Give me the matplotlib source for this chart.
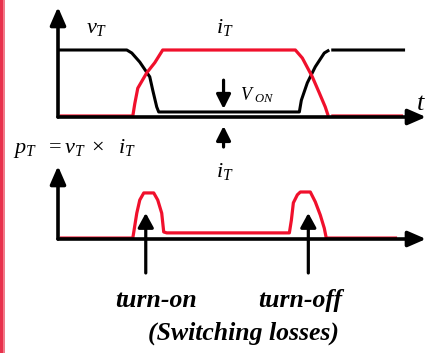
import numpy as np
import matplotlib
matplotlib.use('Agg')
import matplotlib.pyplot as plt
from matplotlib.patches import Rectangle

plt.rcParams['mathtext.fontset'] = 'custom'
plt.rcParams['mathtext.it'] = 'Liberation Serif:italic'
plt.rcParams['mathtext.rm'] = 'Liberation Serif'
plt.rcParams['mathtext.bf'] = 'Liberation Serif:bold'

### Waveform data (time in arbitrary units, amplitude normalised) ###

t_v = [0, 6.9, 7.4, 8.2, 9.2, 9.5, 9.9, 10.1, 24.2, 24.4, 25.0, 25.8, 26.7, 27.2, np.nan, 27.4, 34.8]
v_T = [1.0, 1.0, 0.955, 0.82, 0.60, 0.40, 0.15, 0.075, 0.075, 0.25, 0.51, 0.75, 0.955, 1.0, np.nan, 1.0, 1.0]

t_i = [0.2, 7.5, 7.7, 8.0, 8.9, 9.7, 10.5, 23.8, 24.5, 25.5, 26.2, 26.8, 27.1, np.nan, 27.4, 34.6]
i_T = [0.015, 0.015, 0.2, 0.43, 0.66, 0.81, 1.0, 1.0, 0.88, 0.60, 0.36, 0.15, 0.015, np.nan, 0.015, 0.015]

t_p = [0.2, 7.5, 7.6, 7.9, 8.2, 8.6, 9.6, 10.0, 10.4, 10.6, 10.9, 23.2, 23.4, 23.6, 24.0, 24.3,
       25.3, 25.8, 26.3, 26.7, 26.9, 34.0]
p_T = [0.02, 0.02, 0.15, 0.55, 0.83, 0.98, 0.98, 0.83, 0.55, 0.15, 0.13, 0.13, 0.40, 0.77, 0.94, 1.0,
       1.0, 0.79, 0.51, 0.23, 0.02, 0.02]

red = '#f0102c'
W, H = 426, 353

fig = plt.figure(figsize=(W / 100, H / 100), dpi=100)

# left border stripes
fig.add_artist(Rectangle((0, 0), 2.5 / W, 1, transform=fig.transFigure, color='#e8314c', lw=0))
fig.add_artist(Rectangle((3.2 / W, 0), 1.3 / W, 1, transform=fig.transFigure, color='#f27a8a', lw=0))

def axis_arrows(ax, xmax, ymax):
    style = '-|>,head_length=1.08,head_width=0.47'
    props = dict(arrowstyle=style, mutation_scale=10, lw=2.6, color='k',
                 shrinkA=0, shrinkB=0)
    ax.annotate('', xy=(0, ymax), xytext=(0, 0), arrowprops=props, annotation_clip=False)
    ax.annotate('', xy=(xmax, 0), xytext=(0, 0), arrowprops=props, annotation_clip=False)

def small_arrow(ax, tip, tail, hw=0.43):
    props = dict(arrowstyle='-|>,head_length=0.86,head_width={}'.format(hw),
                 mutation_scale=10, lw=2.3, color='k', shrinkA=0, shrinkB=0)
    ax.annotate('', xy=tip, xytext=tail, arrowprops=props, annotation_clip=False)

### Upper plot: v_T and i_T ###
ax1 = fig.add_axes([58 / W, (H - 117) / H, 368 / W, 110 / H])
ax1.set_xlim(0, 36.9)
ax1.set_ylim(0, 110 / 67)
ax1.axis('off')
axis_arrows(ax1, 36.9, 110 / 67)
ax1.plot(t_v, v_T, color='k', lw=2.2, clip_on=False, solid_capstyle='butt')
ax1.plot(t_i, i_T, color=red, lw=2.3, clip_on=False, solid_capstyle='butt')

ax1.text(2.8, 1.25, r'$v_T$', fontsize=16, ha='left', va='baseline')
ax1.text(15.8, 1.25, r'$i_T$', fontsize=16, ha='left', va='baseline')
ax1.text(18.2, 0.254, r'$V_{\ ON}$', fontsize=13, ha='left', va='baseline')
ax1.text(35.9, 0.10, r'$t$', fontsize=19, ha='left', va='baseline', clip_on=False)
small_arrow(ax1, (16.6, 0.12), (16.6, 0.55))
small_arrow(ax1, (16.6, -0.134), (16.6, -0.448))
ax1.text(15.8, -0.896, r'$i_T$', fontsize=16, ha='left', va='baseline')
ax1.text(-4.5, -0.537, r'$p_T\ \ =v_T\ \times\ \ i_T$', fontsize=16, ha='left', va='baseline')

### Lower plot: p_T ###
ax2 = fig.add_axes([58 / W, (H - 239) / H, 368 / W, 73 / H])
ax2.set_xlim(0, 36.9)
ax2.set_ylim(0, 73 / 47)
ax2.axis('off')
axis_arrows(ax2, 36.9, 73 / 47)
ax2.plot(t_p, p_T, color=red, lw=2.3, clip_on=False, solid_capstyle='butt')

small_arrow(ax2, (8.8, 0.553), (8.8, -0.723), hw=0.47)
small_arrow(ax2, (25.1, 0.553), (25.1, -0.723), hw=0.47)

bold = dict(family='Liberation Serif', style='italic', weight='bold', fontsize=18.5,
            ha='center', va='baseline')
ax2.text(9.8, -1.447, 'turn-on', **bold)
ax2.text(24.3, -1.447, 'turn-off', **bold)
ax2.text(18.65, -2.149, '(Switching losses)', **bold)

plt.savefig('out.png', dpi=100)
